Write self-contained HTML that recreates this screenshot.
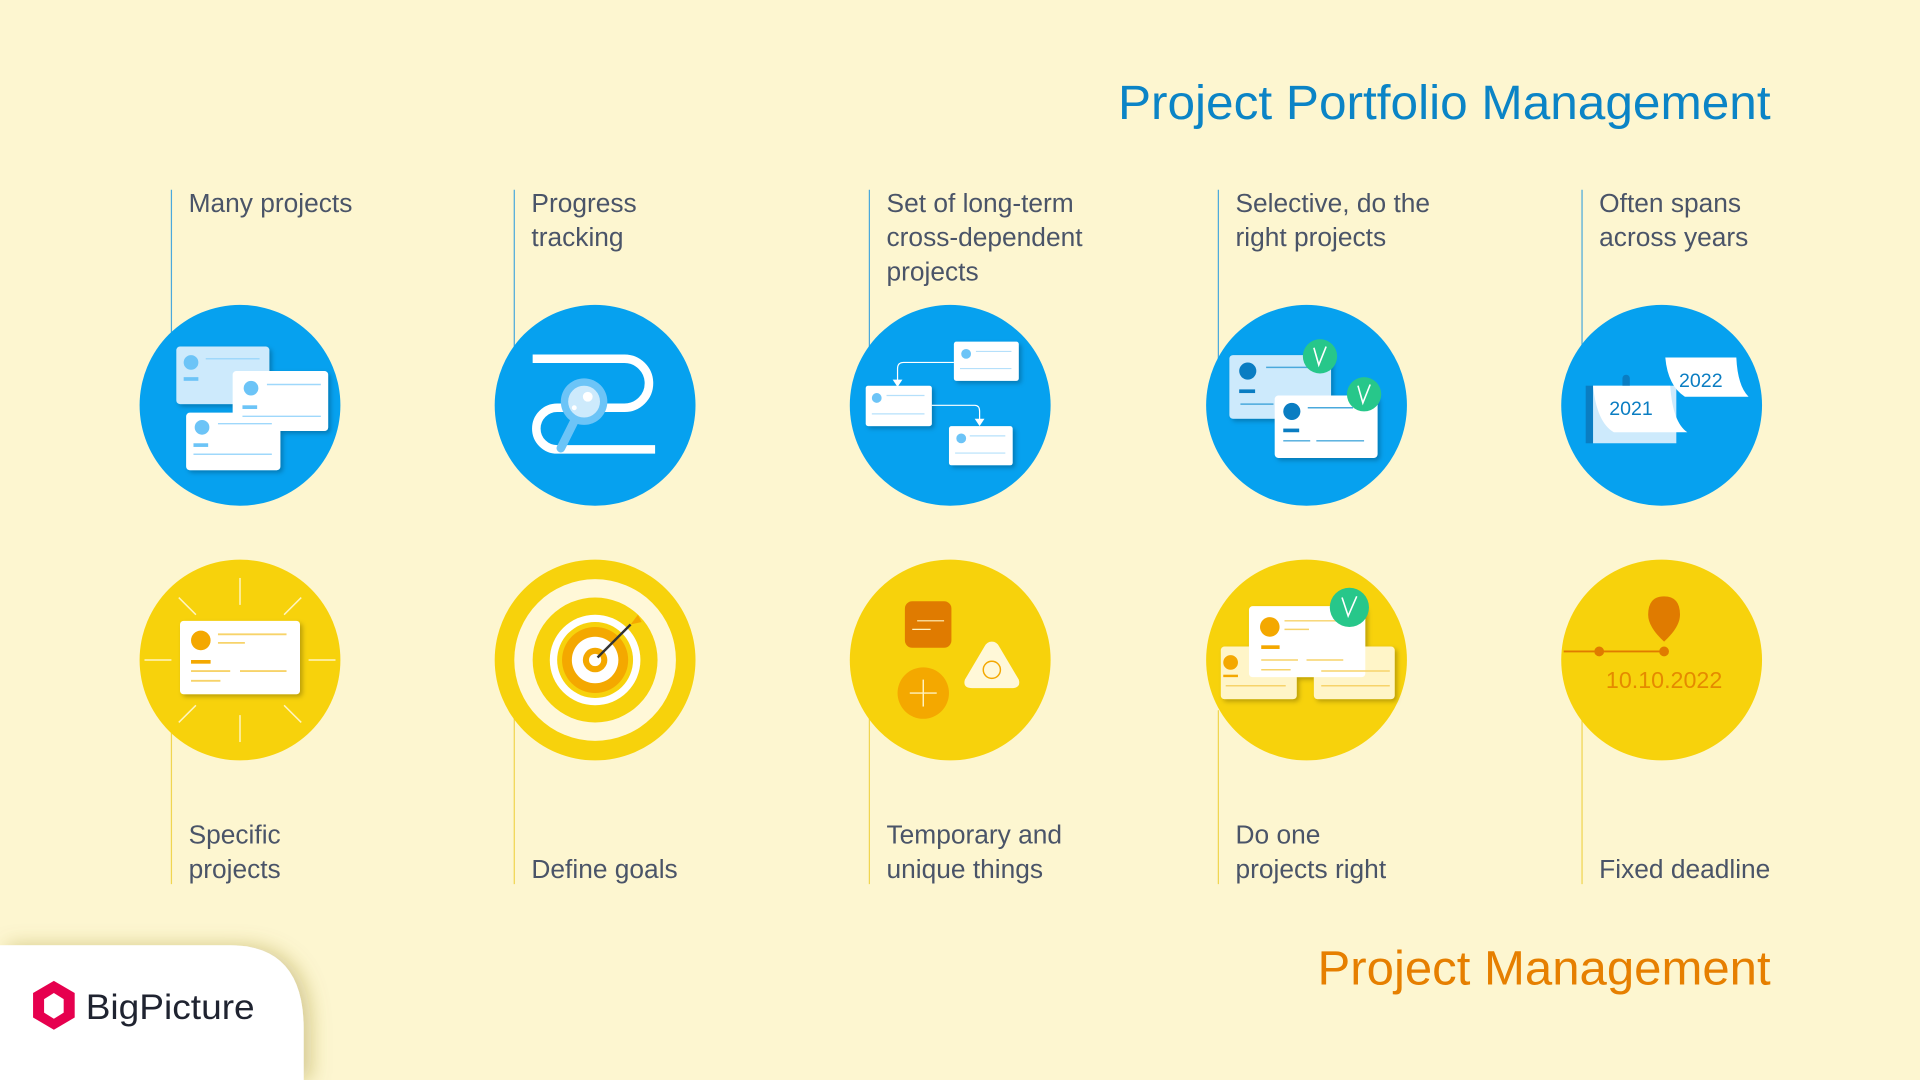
<!DOCTYPE html>
<html><head><meta charset="utf-8"><style>
html,body{margin:0;padding:0;background:#fdf6d0;}
svg{display:block;}
text{font-family:"Liberation Sans",sans-serif;}
</style></head><body>
<svg width="1920" height="1080" viewBox="0 0 1568 882" xmlns="http://www.w3.org/2000/svg">
<defs>
<filter id="sh" x="-30%" y="-30%" width="160%" height="160%"><feDropShadow dx="2" dy="2" stdDeviation="2" flood-opacity="0.25"/></filter>
<filter id="sh2" x="-30%" y="-30%" width="160%" height="160%"><feDropShadow dx="6" dy="0" stdDeviation="8" flood-color="#8a7a20" flood-opacity="0.35"/></filter>
</defs>
<rect width="1568" height="882" fill="#fdf6d0"/>
<text x="1446" y="97" text-anchor="end" font-size="39" fill="#0b84c6" textLength="533" lengthAdjust="spacingAndGlyphs">Project Portfolio Management</text>
<text x="1446" y="804" text-anchor="end" font-size="39" fill="#e67f00" textLength="370" lengthAdjust="spacingAndGlyphs">Project Management</text>

<g stroke="#4aa9dc" stroke-width="1">
<line x1="140" y1="155" x2="140" y2="300"/><line x1="420" y1="155" x2="420" y2="300"/><line x1="710" y1="155" x2="710" y2="300"/><line x1="995" y1="155" x2="995" y2="300"/><line x1="1292" y1="155" x2="1292" y2="300"/>
</g>
<g stroke="#f0d550" stroke-width="1">
<line x1="140" y1="580" x2="140" y2="722"/><line x1="420" y1="580" x2="420" y2="722"/><line x1="710" y1="580" x2="710" y2="722"/><line x1="995" y1="580" x2="995" y2="722"/><line x1="1292" y1="580" x2="1292" y2="722"/>
</g>

<g font-size="21.5" fill="#4a5468">
<text x="154" y="173">Many projects</text>
<text x="434" y="173">Progress</text><text x="434" y="201">tracking</text>
<text x="724" y="173">Set of long-term</text><text x="724" y="201">cross-dependent</text><text x="724" y="229">projects</text>
<text x="1009" y="173">Selective, do the</text><text x="1009" y="201">right projects</text>
<text x="1306" y="173">Often spans</text><text x="1306" y="201">across years</text>
<text x="154" y="689">Specific</text><text x="154" y="717">projects</text>
<text x="434" y="717">Define goals</text>
<text x="724" y="689">Temporary and</text><text x="724" y="717">unique things</text>
<text x="1009" y="689">Do one</text><text x="1009" y="717">projects right</text>
<text x="1306" y="717">Fixed deadline</text>
</g>

<g fill="#06a1ef">
<circle cx="196" cy="331" r="82"/><circle cx="486" cy="331" r="82"/><circle cx="776" cy="331" r="82"/><circle cx="1067" cy="331" r="82"/><circle cx="1357" cy="331" r="82"/>
</g>
<g fill="#f7d20c">
<circle cx="196" cy="539" r="82"/><circle cx="486" cy="539" r="82"/><circle cx="776" cy="539" r="82"/><circle cx="1067" cy="539" r="82"/><circle cx="1357" cy="539" r="82"/>
</g>

<g filter="url(#sh)">
<rect x="144" y="283" width="76" height="47" rx="3" fill="#cdeafc"/>
<rect x="190" y="303" width="78" height="49" rx="3" fill="#fff"/>
<rect x="152" y="337" width="77" height="47" rx="3" fill="#fff"/>
</g>
<g fill="#6cc4f7"><circle cx="156" cy="296" r="6"/><circle cx="205" cy="317" r="6"/><circle cx="165" cy="349" r="6"/>
<rect x="150" y="308" width="12" height="3"/><rect x="198" y="331" width="12" height="3"/><rect x="158" y="362" width="12" height="3"/></g>
<g stroke="#9fd8fb" stroke-width="1.2"><line x1="168" y1="293" x2="212" y2="293"/><line x1="218" y1="314" x2="262" y2="314"/><line x1="178" y1="346" x2="222" y2="346"/><line x1="198" y1="340" x2="262" y2="340"/><line x1="158" y1="371" x2="222" y2="371"/></g>

<g fill="none" stroke="#fff" stroke-width="7">
<path d="M435 293 H510 A20 20 0 0 1 510 333 H455 A17 17 0 0 0 455 367 H535"/>
</g>
<path d="M435 299 H510 A14 14 0 0 1 510 327" fill="none" stroke="#06a1ef" stroke-width="2"/>
<line x1="471" y1="340" x2="458" y2="366" stroke="#6cc4f7" stroke-width="7" stroke-linecap="round"/>
<circle cx="477" cy="328" r="19" fill="#6cc4f7"/><circle cx="477" cy="328" r="13" fill="#cdeafc"/><circle cx="480" cy="324" r="4" fill="#fff"/><circle cx="469" cy="333" r="2" fill="#fff"/>

<g filter="url(#sh)" fill="#fff">
<rect x="779" y="279" width="53" height="32" rx="2"/><rect x="707" y="315" width="54" height="33" rx="2"/><rect x="775" y="348" width="52" height="32" rx="2"/>
</g>
<g fill="#6cc4f7"><circle cx="789" cy="289" r="4"/><circle cx="716" cy="325" r="4"/><circle cx="785" cy="358" r="4"/></g>
<g stroke="#b5e0fb" stroke-width="1"><line x1="797" y1="287" x2="826" y2="287"/><line x1="784" y1="301" x2="826" y2="301"/><line x1="724" y1="323" x2="755" y2="323"/><line x1="712" y1="338" x2="755" y2="338"/><line x1="792" y1="356" x2="821" y2="356"/><line x1="780" y1="370" x2="821" y2="370"/></g>
<g fill="none" stroke="#fff" stroke-width="1"><path d="M779 296 H738 Q733 296 733 301 V312"/><path d="M761 331 H796 Q800 331 800 336 V345"/></g>
<g fill="#fff"><path d="M729 310 L737 310 L733 316Z"/><path d="M796 342 L804 342 L800 348Z"/></g>

<g filter="url(#sh)"><rect x="1004" y="290" width="83" height="52" rx="3" fill="#cdeafc"/><rect x="1041" y="323" width="84" height="51" rx="3" fill="#fff"/></g>
<g fill="#0a7dc2"><circle cx="1019" cy="303" r="7"/><circle cx="1055" cy="336" r="7"/><rect x="1012" y="318" width="13" height="3"/><rect x="1048" y="350" width="13" height="3"/></g>
<g stroke="#4aa9dc" stroke-width="1.2"><line x1="1034" y1="300" x2="1070" y2="300"/><line x1="1013" y1="330" x2="1040" y2="330"/><line x1="1068" y1="333" x2="1105" y2="333"/><line x1="1048" y1="360" x2="1070" y2="360"/><line x1="1075" y1="360" x2="1114" y2="360"/></g>
<circle cx="1078" cy="291" r="14" fill="#27c78a"/><circle cx="1114" cy="322" r="14" fill="#27c78a"/>
<g fill="none" stroke="#fff" stroke-width="1.3"><path d="M1073 284 L1077 298 L1083 283"/><path d="M1109 315 L1113 329 L1119 314"/></g>

<rect x="1295" y="315" width="6" height="47" fill="#0a7dc2"/>
<rect x="1301" y="315" width="68" height="47" fill="#cdeafc"/>
<rect x="1325" y="306" width="6" height="12" rx="3" fill="#0a7dc2"/>
<path d="M1301 315 H1364 Q1366 345 1378 353 H1318 Q1304 345 1301 315Z" fill="#fff"/>
<text x="1332" y="339" text-anchor="middle" font-size="16" fill="#0a7dc2">2021</text>
<path d="M1360 292 H1418 Q1419 315 1428 324 H1376 Q1362 315 1360 292Z" fill="#fff"/>
<text x="1389" y="316" text-anchor="middle" font-size="16" fill="#0a7dc2">2022</text>

<g stroke="#fff5c0" stroke-width="1.2">
<line x1="196" y1="472" x2="196" y2="494"/><line x1="196" y1="584" x2="196" y2="606"/><line x1="118" y1="539" x2="140" y2="539"/><line x1="252" y1="539" x2="274" y2="539"/>
<line x1="146" y1="488" x2="160" y2="502"/><line x1="232" y1="502" x2="246" y2="488"/><line x1="146" y1="590" x2="160" y2="576"/><line x1="232" y1="576" x2="246" y2="590"/>
</g>
<rect x="147" y="507" width="98" height="60" rx="3" fill="#fff" filter="url(#sh)"/>
<circle cx="164" cy="523" r="8" fill="#f4a800"/><rect x="156" y="539" width="16" height="3" fill="#f4a800"/>
<g stroke="#f7d36a" stroke-width="1.5"><line x1="178" y1="518" x2="234" y2="518"/><line x1="178" y1="525" x2="200" y2="525"/><line x1="156" y1="548" x2="188" y2="548"/><line x1="196" y1="548" x2="234" y2="548"/><line x1="156" y1="556" x2="180" y2="556"/></g>

<circle cx="486" cy="539" r="66" fill="#fff8d8"/><circle cx="486" cy="539" r="51" fill="#f7d20c"/>
<circle cx="486" cy="539" r="37" fill="#fff"/><circle cx="486" cy="539" r="31" fill="#f7d20c"/>
<circle cx="486" cy="539" r="27" fill="#f4a800"/><circle cx="486" cy="539" r="19" fill="#fff"/>
<circle cx="486" cy="539" r="10" fill="#f4a800"/><circle cx="486" cy="539" r="5" fill="#fff"/>
<line x1="488" y1="537" x2="515" y2="510" stroke="#333" stroke-width="2"/>
<path d="M515 510 L521 502 L524 508 Z" fill="#f4a800"/>

<rect x="739" y="491" width="38" height="38" rx="6" fill="#e07b00"/>
<g stroke="#fff3c0" stroke-width="1"><line x1="749" y1="507" x2="771" y2="507"/><line x1="745" y1="514" x2="760" y2="514"/></g>
<circle cx="754" cy="566" r="21" fill="#f4a800"/>
<g stroke="#fff3c0" stroke-width="1.2"><line x1="743" y1="566" x2="765" y2="566"/><line x1="754" y1="555" x2="754" y2="577"/></g>
<path d="M810 524 Q814 524 816 528 L832 555 Q834 562 826 562 H794 Q786 562 788 555 L804 528 Q806 524 810 524Z" fill="#fff8d8"/>
<circle cx="810" cy="547" r="7" fill="none" stroke="#f4a800" stroke-width="1.2"/>

<g filter="url(#sh)"><rect x="997" y="528" width="62" height="43" rx="3" fill="#fff5c8"/><rect x="1073" y="528" width="66" height="43" rx="3" fill="#fff5c8"/><rect x="1020" y="495" width="95" height="58" rx="3" fill="#fff"/></g>
<circle cx="1005" cy="541" r="6" fill="#f4a800"/><rect x="999" y="551" width="12" height="2" fill="#f4a800"/>
<circle cx="1037" cy="512" r="8" fill="#f4a800"/><rect x="1030" y="527" width="15" height="3" fill="#f4a800"/>
<g stroke="#f7d36a" stroke-width="1.2"><line x1="1049" y1="507" x2="1095" y2="507"/><line x1="1049" y1="514" x2="1069" y2="514"/><line x1="1030" y1="539" x2="1060" y2="539"/><line x1="1067" y1="539" x2="1097" y2="539"/><line x1="1030" y1="547" x2="1054" y2="547"/><line x1="1079" y1="548" x2="1135" y2="548"/><line x1="1001" y1="560" x2="1050" y2="560"/><line x1="1079" y1="560" x2="1135" y2="560"/></g>
<circle cx="1102" cy="496" r="16" fill="#27c78a"/>
<path d="M1096 488 L1101 503 L1108 487" fill="none" stroke="#fff" stroke-width="1.3"/>

<line x1="1277" y1="532" x2="1359" y2="532" stroke="#e07b00" stroke-width="1.5"/>
<circle cx="1306" cy="532" r="4" fill="#e07b00"/><circle cx="1359" cy="532" r="4" fill="#e07b00"/>
<path d="M1359 487 Q1372 487 1372 502 Q1372 512 1359 524 Q1346 512 1346 502 Q1346 487 1359 487Z" fill="#e07b00"/>
<text x="1359" y="562" text-anchor="middle" font-size="19" fill="#e58a00">10.10.2022</text>

<path d="M0 772 H188 Q248 772 248 840 V882 H0Z" fill="#fff" filter="url(#sh2)"/>
<path d="M44 801 L61 811 L61 831 L44 841 L27 831 L27 811Z" fill="#e6004e"/>
<path d="M44 811 L52 816 L52 827 L44 832 L36 827 L36 816Z" fill="#fff"/>
<text x="70" y="832" font-size="29" fill="#1f2330" textLength="138" lengthAdjust="spacingAndGlyphs">BigPicture</text>
</svg>
</body></html>
